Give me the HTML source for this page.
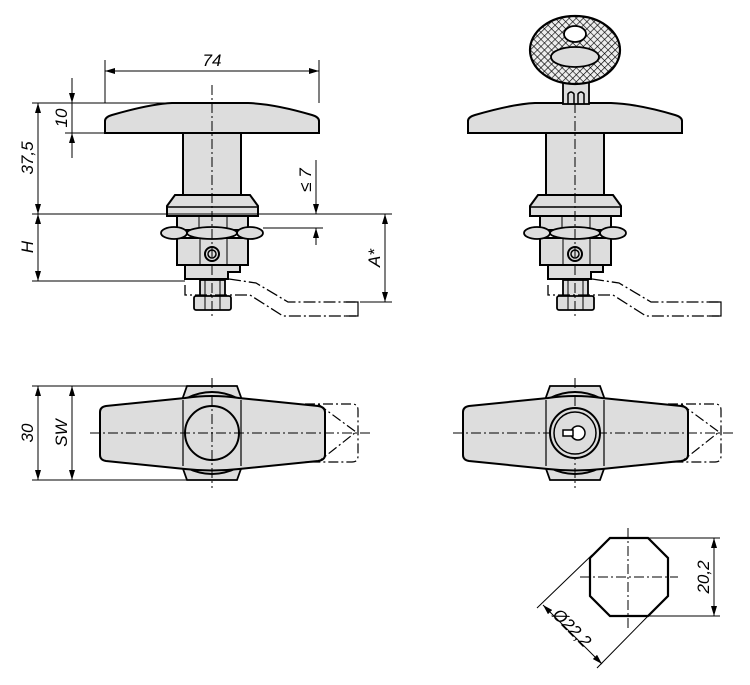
<!DOCTYPE html>
<html><head><meta charset="utf-8"><style>
html,body{margin:0;padding:0;background:#fff;}
svg{display:block;}
text{font-family:"Liberation Sans",sans-serif;font-style:italic;font-size:17px;fill:#000;}
</style></head><body>
<svg width="750" height="685" viewBox="0 0 750 685" xmlns="http://www.w3.org/2000/svg">
<defs>
<marker id="a" viewBox="0 0 10 6" refX="10" refY="3" markerWidth="10" markerHeight="6" orient="auto-start-reverse" markerUnits="userSpaceOnUse"><path d="M0,0 L10,3 L0,6z" fill="#000"/></marker>
<g id="side">
  <path d="M105,133 L105,121 Q105,117 112,115 Q150,104 172,103 L248,103 Q275,104 312,115 Q319,117 319,121 L319,133 Z" fill="#ddd" stroke="#000" stroke-width="2"/>
  <rect x="183" y="133" width="58" height="62" fill="#ddd" stroke="#000" stroke-width="2"/>
  <path d="M175,195 L250,195 L258,206 L258,216 L167,216 L167,206 Z" fill="#ddd" stroke="#000" stroke-width="2"/>
  <line x1="167" y1="207" x2="258" y2="207" stroke="#000" stroke-width="1.5"/>
  <rect x="177" y="216" width="71" height="14" fill="#ddd" stroke="#000" stroke-width="2"/>
  <line x1="199" y1="216" x2="199" y2="230" stroke="#000"/><line x1="227" y1="216" x2="227" y2="230" stroke="#000"/>
  <rect x="177" y="238" width="71" height="27" fill="#ddd" stroke="#000" stroke-width="2"/>
  <line x1="200" y1="238" x2="200" y2="265" stroke="#000"/><line x1="227" y1="238" x2="227" y2="265" stroke="#000"/>
  <ellipse cx="174" cy="233" rx="13" ry="6" fill="#ddd" stroke="#000" stroke-width="1.8"/>
  <ellipse cx="250" cy="233" rx="13" ry="6" fill="#ddd" stroke="#000" stroke-width="1.8"/>
  <ellipse cx="212" cy="233" rx="25" ry="6" fill="#ddd" stroke="#000" stroke-width="1.8"/>
  <circle cx="212" cy="254" r="7" fill="#ddd" stroke="#000" stroke-width="2"/>
  <circle cx="212" cy="254" r="4" fill="none" stroke="#000" stroke-width="1.5"/>
  <path d="M185,265 L240,265 L240,272 L228,272 L228,279 L185,279 Z" fill="#ddd" stroke="#000" stroke-width="2"/>
  <rect x="200" y="280" width="25" height="17" fill="#ddd" stroke="#000" stroke-width="1.8"/>
  <rect x="194" y="296" width="37" height="14" rx="2" fill="#ddd" stroke="#000" stroke-width="1.8"/>
  <line x1="205" y1="280" x2="205" y2="310" stroke="#000"/><line x1="220" y1="280" x2="220" y2="310" stroke="#000"/>
  <g fill="none" stroke="#000" stroke-width="1.3" stroke-dasharray="12,3,2,3">
    <path d="M229,279 L256,283 L288,302 L356,302"/>
    <path d="M185,285 L185,295 L250,295 L283,316 L356,316"/>
  </g>
  <path d="M346,302 L358,302 L358,316 L346,316" fill="none" stroke="#000" stroke-width="1.2"/>
  <line x1="212" y1="85" x2="212" y2="318" stroke="#000" stroke-width="1" stroke-dasharray="10,3,2,3"/>
</g>
<g id="top">
  <path d="M182,400 L187,386 L237,386 L242,400 L242,466 L237,480 L187,480 L182,466 Z" fill="#ddd" stroke="#000" stroke-width="1.8"/>
  <path d="M187,398 Q212,386 237,398 M187,468 Q212,480 237,468" fill="none" stroke="#000" stroke-width="2"/>
  <path d="M100,412 Q100,407 106,406 L185,398 Q212,394 239,398 L318,406 Q325,407 325,412 L325,455 Q325,460 318,461 L239,469 Q212,472 185,469 L106,461 Q100,460 100,455 Z" fill="#ddd" stroke="#000" stroke-width="2"/>
  <line x1="183" y1="400" x2="183" y2="466" stroke="#000" stroke-width="1.2"/>
  <line x1="241" y1="400" x2="241" y2="466" stroke="#000" stroke-width="1.2"/>
  <g fill="none" stroke="#000" stroke-width="1.2" stroke-dasharray="10,3,2,3">
    <path d="M305,404 L352,404 Q358,404 358,410 L358,456 Q358,462 352,462 L305,462"/>
    <path d="M318,404 L356,432 L318,462"/>
  </g>
  <line x1="90" y1="433" x2="370" y2="433" stroke="#000" stroke-dasharray="10,3,2,3"/>
  <line x1="212" y1="378" x2="212" y2="488" stroke="#000" stroke-dasharray="10,3,2,3"/>
</g>
<pattern id="h" width="5" height="5" patternUnits="userSpaceOnUse" patternTransform="rotate(45)"><rect width="5" height="5" fill="#eee"/><path d="M0,0 L5,0 M0,0 L0,5" stroke="#000" stroke-width="1.3"/></pattern>
</defs>

<use href="#side"/>
<g stroke="#000" stroke-width="1" fill="none">
  <line x1="105" y1="60" x2="105" y2="103"/><line x1="319" y1="60" x2="319" y2="103"/>
  <line x1="105" y1="71" x2="319" y2="71" marker-start="url(#a)" marker-end="url(#a)"/>
  <line x1="32" y1="103" x2="170" y2="103"/>
  <line x1="65" y1="133" x2="105" y2="133"/>
  <line x1="72" y1="78" x2="72" y2="103" marker-end="url(#a)"/>
  <line x1="72" y1="158" x2="72" y2="133" marker-end="url(#a)"/>
  <line x1="72" y1="103" x2="72" y2="133"/>
  <line x1="32" y1="214" x2="392" y2="214"/>
  <line x1="32" y1="281" x2="185" y2="281"/>
  <line x1="38" y1="103" x2="38" y2="214" marker-start="url(#a)" marker-end="url(#a)"/>
  <line x1="38" y1="214" x2="38" y2="281" marker-start="url(#a)" marker-end="url(#a)"/>
  <line x1="263" y1="228" x2="323" y2="228"/>
  <line x1="316" y1="160" x2="316" y2="214" marker-end="url(#a)"/>
  <line x1="316" y1="245" x2="316" y2="228" marker-end="url(#a)"/>
  <line x1="360" y1="302" x2="392" y2="302"/>
  <line x1="385" y1="214" x2="385" y2="302" marker-start="url(#a)" marker-end="url(#a)"/>
</g>
<text x="212" y="66" text-anchor="middle">74</text>
<text transform="translate(67,118) rotate(-90)" text-anchor="middle">10</text>
<text transform="translate(33,158) rotate(-90)" text-anchor="middle">37,5</text>
<text transform="translate(33,247) rotate(-90)" text-anchor="middle">H</text>
<text transform="translate(311,180) rotate(-90)" text-anchor="middle">≤ 7</text>
<text transform="translate(380,258) rotate(-90)" text-anchor="middle">A*</text>

<g transform="translate(363,0)">
  <use href="#side"/>
  <rect x="200" y="80" width="26" height="24" fill="#ddd" stroke="#000" stroke-width="1.8"/>
  <path d="M205,104 L205,94 Q208,90 211,94 L211,104 M215,104 L215,94 Q218,90 221,94 L221,104" fill="none" stroke="#000" stroke-width="1.5"/>
</g>
<ellipse cx="575" cy="50" rx="45" ry="34" fill="url(#h)" stroke="#000" stroke-width="2.2"/>
<ellipse cx="575" cy="57" rx="24" ry="10" fill="#ddd" stroke="#000" stroke-width="1.8"/>
<ellipse cx="575" cy="34" rx="11" ry="8" fill="#fff" stroke="#000" stroke-width="1.8"/>

<use href="#top"/>
<circle cx="212" cy="433" r="27" fill="none" stroke="#000" stroke-width="2"/>
<g stroke="#000" stroke-width="1" fill="none">
  <line x1="32" y1="386" x2="212" y2="386"/><line x1="32" y1="480" x2="212" y2="480"/>
  <line x1="38" y1="386" x2="38" y2="480" marker-start="url(#a)" marker-end="url(#a)"/>
  <line x1="72" y1="386" x2="72" y2="480" marker-start="url(#a)" marker-end="url(#a)"/>
</g>
<text transform="translate(33,433) rotate(-90)" text-anchor="middle">30</text>
<text transform="translate(67,433) rotate(-90)" text-anchor="middle">SW</text>

<g transform="translate(363,0)">
  <use href="#top"/>
  <circle cx="212" cy="433" r="25" fill="#ddd" stroke="#000" stroke-width="2"/>
  <circle cx="212" cy="433" r="21" fill="none" stroke="#000" stroke-width="1.5"/>
  <circle cx="215" cy="433" r="7" fill="#fff" stroke="#000" stroke-width="1.5"/>
  <rect x="200" y="430" width="10" height="6" fill="#fff" stroke="#000" stroke-width="1.5"/>
</g>

<path d="M610,538 L648,538 L668,558 L668,596 L648,616 L610,616 L590,596 L590,558 Z" fill="#fff" stroke="#000" stroke-width="2.2"/>
<g stroke="#000" stroke-width="1" fill="none">
  <line x1="628" y1="528" x2="628" y2="628" stroke-dasharray="10,3,2,3"/>
  <line x1="580" y1="577" x2="678" y2="577" stroke-dasharray="10,3,2,3"/>
  <line x1="648" y1="538" x2="720" y2="538"/><line x1="648" y1="616" x2="720" y2="616"/>
  <line x1="714" y1="538" x2="714" y2="616" marker-start="url(#a)" marker-end="url(#a)"/>
  <line x1="592" y1="555" x2="537" y2="608"/>
  <line x1="652" y1="612" x2="597" y2="668"/>
  <line x1="543" y1="605" x2="602" y2="664" marker-start="url(#a)" marker-end="url(#a)"/>
</g>
<text transform="translate(709,577) rotate(-90)" text-anchor="middle">20,2</text>
<text transform="translate(568,632) rotate(45)" text-anchor="middle">Ø22,2</text>
</svg>
</body></html>
